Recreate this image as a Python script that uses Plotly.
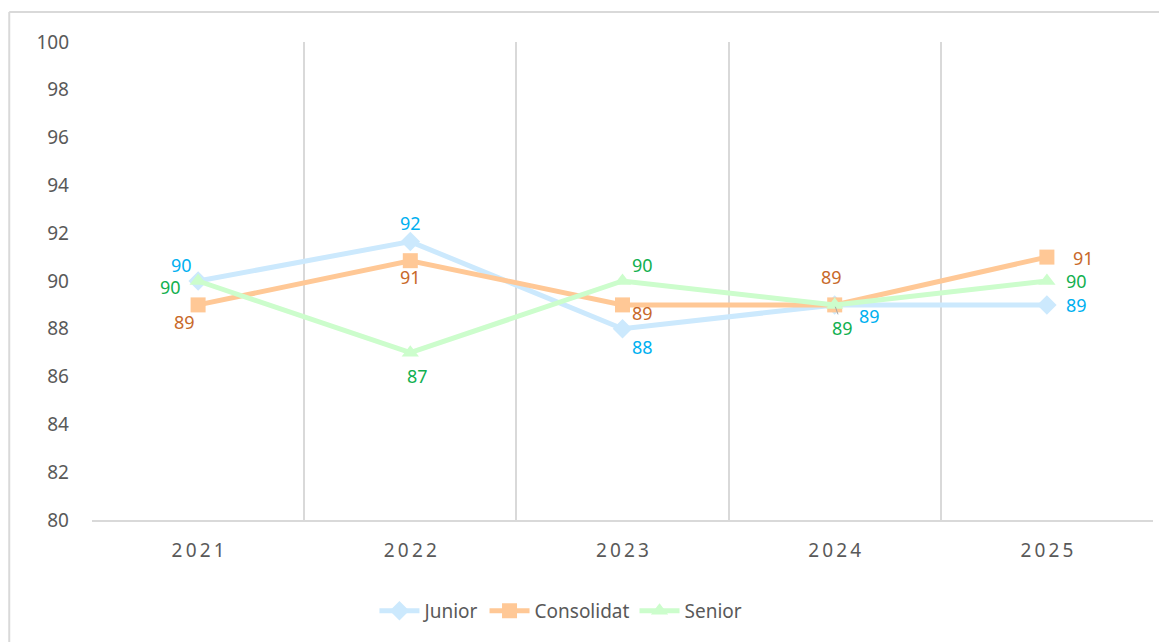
import plotly.graph_objects as go

years = ["2021", "2022", "2023", "2024", "2025"]
junior = [90, 91.65, 88, 89, 89]
consolidat = [89, 90.85, 89, 89, 91]
senior = [90, 87, 90, 89, 90]
junior_lbl = ["90", "92", "88", "89", "89"]
consolidat_lbl = ["89", "91", "89", "89", "91"]
senior_lbl = ["90", "87", "90", "89", "90"]
y_ticks = list(range(80, 101, 2))

xpos = list(range(len(years)))
SP = "\u2006"
year_text = [SP.join(list(y)) for y in years]

series = [
    dict(name="Junior", y=junior, lbl=junior_lbl, line="#cce9fd", txt="#00b0f0", symbol="diamond", size=15,
         offs=[(-17, 16), (0, 19), (20, -18), (35, -11), (30, 0)]),
    dict(name="Consolidat", y=consolidat, lbl=consolidat_lbl, line="#ffc896", txt="#c8692a", symbol="square", size=15,
         offs=[(-14, -17), (0, -16), (20, -8), (-3, 28), (37, -1)]),
    dict(name="Senior", y=senior, lbl=senior_lbl, line="#ccfdcc", txt="#12b050", symbol="triangle-up", size=15,
         offs=[(-28, -6), (7, -23), (20, 16), (8, -23), (30, 0)]),
]

fig = go.Figure()
for s in series:
    fig.add_trace(go.Scatter(
        x=xpos, y=s["y"], name=s["name"], mode="lines+markers",
        line=dict(color=s["line"], width=5),
        marker=dict(symbol=s["symbol"], size=s["size"], color=s["line"]),
    ))

for s in series:
    for i, (xv, yv, t) in enumerate(zip(xpos, s["y"], s["lbl"])):
        dx, dy = s["offs"][i]
        if s["name"] == "Senior" and i == 3:
            fig.add_annotation(x=xv, y=yv, text=t, showarrow=True, ax=dx, ay=-dy,
                               arrowhead=0, arrowwidth=1, arrowcolor="#a6a6a6", standoff=2,
                               font=dict(family="Noto Sans", size=18, color=s["txt"]))
        else:
            fig.add_annotation(x=xv, y=yv, text=t, showarrow=False, xshift=dx, yshift=dy,
                               font=dict(family="Noto Sans", size=18, color=s["txt"]))

# outer chart border (left and top edges; the rest lies outside the picture)
fig.add_shape(type="line", xref="paper", yref="paper", x0=-0.078, x1=-0.078, y0=-0.4, y1=1.063,
              line=dict(color="#d9d9d9", width=2), layer="below")
fig.add_shape(type="line", xref="paper", yref="paper", x0=-0.078, x1=1.1, y0=1.063, y1=1.063,
              line=dict(color="#d9d9d9", width=2), layer="below")

fig.update_layout(
    width=1159, height=634,
    margin=dict(l=84, r=14, t=34, b=122),
    paper_bgcolor="white", plot_bgcolor="white",
    font=dict(family="Noto Sans", color="#595959", size=19),
    showlegend=True,
    legend=dict(orientation="h", x=0.442, xanchor="center", y=-0.19, yanchor="middle",
                font=dict(size=19, color="#595959"), itemwidth=40, traceorder="normal"),
    xaxis=dict(range=[-0.5, 4.5], tickvals=xpos, ticktext=year_text, showgrid=False,
               zeroline=False, showline=True, linecolor="#d9d9d9", linewidth=1.5,
               ticks="", ticklabelstandoff=12, fixedrange=True,
               tickfont=dict(size=19, color="#595959"),
               minor=dict(tickvals=[-0.5, 0.5, 1.5, 2.5, 3.5, 4.5], showgrid=True,
                          gridcolor="#d9d9d9", gridwidth=1.5, ticks="")),
    yaxis=dict(range=[80, 100], tickvals=y_ticks, showgrid=False, zeroline=False,
               showline=False, ticks="", ticklabelstandoff=22,
               tickfont=dict(size=19, color="#595959")),
)

fig.write_html("out.html", post_script="document.body.style.overflow='hidden';")
